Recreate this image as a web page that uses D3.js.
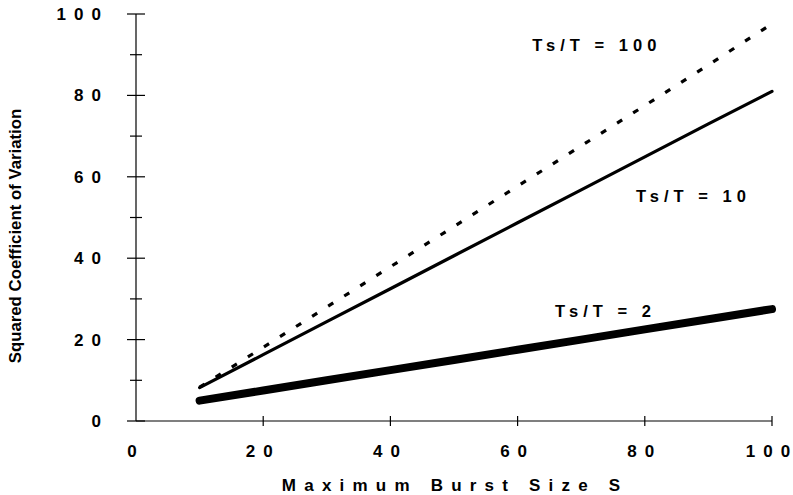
<!DOCTYPE html>
<html><head><meta charset="utf-8">
<script src="https://cdn.jsdelivr.net/npm/d3@7"></script>
<style>body{margin:0;background:#fff}svg{display:block}text{font-family:"Liberation Sans",Arial,sans-serif;font-weight:bold;fill:#000}</style>
</head><body><svg id="c" width="793" height="495"></svg>
<script>
const burstSize = [10,20,30,40,50,60,70,80,90,100];
const ratio2   = [5.0,7.5,10.0,12.5,15.0,17.5,20.0,22.5,25.0,27.5];
const ratio10  = [8.2,16.3,24.4,32.5,40.6,48.7,56.8,64.9,73.0,81.0];
const ratio100 = [8.3,18.1,28.0,37.9,47.8,57.7,67.6,77.5,87.5,97.6];
const xTicks = [0,20,40,60,80,100];
const yTicks = [0,20,40,60,80,100];
const yMinor = [10,30,50,70,90];
const seriesLabels = ["Ts/T = 100","Ts/T = 10","Ts/T = 2"];
const labelAtX = [62.3,78.6,65.9];
const labelAtY = [90.9,53.8,25.6];

const svg = d3.select("#c");
const x = d3.scaleLinear().domain([0,100]).range([136,772]);
const y = d3.scaleLinear().domain([0,100]).range([421,14]);

function spaced(textSel, gap){
  textSel.each(function(d){
    const t = d3.select(this);
    const s = String(t.text());
    t.text(null);
    s.split("").forEach((ch,i)=>{
      t.append("tspan").attr("dx", i===0?0:gap).text(ch);
    });
  });
}

svg.append("line").attr("x1",x(0)).attr("x2",x(0)).attr("y1",y(0)).attr("y2",y(100)).attr("stroke","#000").attr("stroke-width",1.2);
svg.append("line").attr("x1",x(0)).attr("x2",x(100)).attr("y1",y(0)).attr("y2",y(0)).attr("stroke","#000").attr("stroke-width",1.2);
svg.selectAll(".yt").data(yTicks).join("line").attr("x1",x(0)-9).attr("x2",x(0)+9).attr("y1",d=>y(d)).attr("y2",d=>y(d)).attr("stroke","#000").attr("stroke-width",1.2);
svg.selectAll(".ym").data(yMinor).join("line").attr("x1",x(0)-6).attr("x2",x(0)+6).attr("y1",d=>y(d)).attr("y2",d=>y(d)).attr("stroke","#000").attr("stroke-width",1.2);
// y labels: right-aligned by measuring
svg.selectAll(".yl").data(yTicks).join("text").attr("x",0).attr("y",d=>y(d)+6).attr("font-size",17).text(d=>d).call(spaced,8)
  .each(function(){ const w = this.getBBox().width; d3.select(this).attr("x", 101 - w); });
svg.selectAll(".xt").data(xTicks.filter(d=>d>0)).join("line").attr("x1",d=>x(d)).attr("x2",d=>x(d)).attr("y1",y(0)-5).attr("y2",y(0)+5).attr("stroke","#000").attr("stroke-width",1.2);
svg.selectAll(".xl").data(xTicks).join("text").attr("x",0).attr("y",457).attr("font-size",17).text(d=>d).call(spaced,8)
  .each(function(d){ const w = this.getBBox().width; d3.select(this).attr("x", x(d) - 4 - w/2); });

svg.append("text").attr("x",0).attr("y",491).attr("font-size",17).text("Maximum Burst Size S").call(spaced,8.2)
  .each(function(){ const w = this.getBBox().width; d3.select(this).attr("x", 451 - w/2); });
svg.append("text").attr("transform","translate(21,236) rotate(-90)").attr("text-anchor","middle").attr("font-size",16.8).text("Squared Coefficient of Variation");

const line = d3.line().x((d,i)=>x(burstSize[i])).y(d=>y(d));
svg.append("path").datum(ratio2).attr("d",line).attr("fill","none").attr("stroke","#000").attr("stroke-width",8).attr("stroke-linecap","round");
svg.append("path").datum(ratio10).attr("d",line).attr("fill","none").attr("stroke","#000").attr("stroke-width",3.2).attr("stroke-linecap","round");
svg.append("path").datum(ratio100).attr("d",line).attr("fill","none").attr("stroke","#000").attr("stroke-width",3.2).attr("stroke-dasharray","6 13");

svg.selectAll(".ann").data(seriesLabels).join("text").attr("x",(d,i)=>x(labelAtX[i])).attr("y",(d,i)=>y(labelAtY[i])).attr("font-size",16.5).text(d=>d).call(spaced,5);
</script></body></html>
